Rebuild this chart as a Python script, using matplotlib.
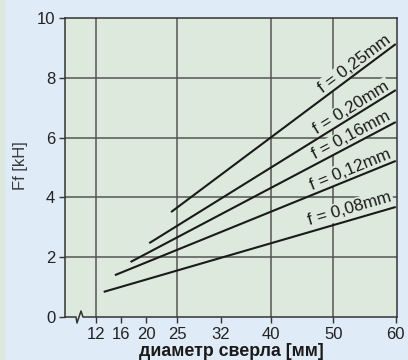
import numpy as np
import matplotlib.pyplot as plt
from matplotlib.patches import Rectangle

plt.rcParams['font.family'] = ['Liberation Sans', 'DejaVu Sans']

# data
feeds = ['0,25', '0,20', '0,16', '0,12', '0,08']
d_start = [24.0, 20.5, 17.5, 15.0, 13.2]
f_start = [3.51, 2.47, 1.84, 1.40, 0.84]
d_end = [60, 60, 60, 60, 60]
f_end = [9.13, 7.59, 6.52, 5.22, 3.68]
label_x = [53.4, 52.9, 52.9, 52.7, 52.6]
label_y = [8.45, 7.0, 6.07, 4.94, 3.62]

xticks = [12, 16, 20, 25, 32, 40, 50, 60]
xgrid = [12, 25, 40, 50]
yticks = [0, 2, 4, 6, 8, 10]
ygrid = [2, 4, 6, 8]

bg = '#dfebf7'
plot_bg = '#dde9dc'
grid_c = '#555555'

fig = plt.figure(figsize=(4.08, 3.6), dpi=100, facecolor=bg)
fig.patches.append(Rectangle((0, 0), 5 / 408, 1, transform=fig.transFigure,
                             facecolor=plot_bg, edgecolor='none', zorder=0))
ax = fig.add_axes([65 / 408, 43 / 360, 332 / 408, 299 / 360])
ax.set_facecolor(plot_bg)
ax.set_xlim(7, 60.2)
ax.set_ylim(0, 10)

for x in xgrid:
    ax.axvline(x, color=grid_c, lw=1.1, zorder=1)
for y in ygrid:
    ax.axhline(y, color=grid_c, lw=1.1, zorder=1)

for i in range(len(feeds)):
    ax.plot([d_start[i], d_end[i]], [f_start[i], f_end[i]], color='#1a1a1a',
            lw=1.5, zorder=4, solid_capstyle='butt')
    ang = np.degrees(np.arctan2(f_end[i] - f_start[i], d_end[i] - d_start[i]))
    ax.text(label_x[i], label_y[i], 'f = ' + feeds[i] + 'mm', fontsize=12.3,
            ha='center', va='center', rotation=ang, transform_rotates_text=True,
            rotation_mode='anchor', color='#1a1a1a', zorder=3,
            bbox=dict(facecolor=plot_bg, edgecolor='none', pad=1.2))

ax.set_xticks(xticks)
ax.set_yticks(yticks)
ax.tick_params(direction='out', length=4, width=1, color='#333333',
               labelsize=12, labelcolor='#222222', pad=3)
for s in ['left', 'top', 'right']:
    ax.spines[s].set_color('#333333')
    ax.spines[s].set_linewidth(1.1)
ax.spines['bottom'].set_visible(False)

# bottom axis with break mark
bx = [0, 11, 12, 16, 18, 332]
by = [0, 0, -6, 6, 0, 0]
ax.plot(np.array(bx) / 332, np.array(by) / 299, transform=ax.transAxes,
        color='#333333', lw=1.1, clip_on=False, zorder=5)

ax.set_xlabel('диаметр сверла [мм]', fontsize=12.8, fontweight='bold',
              color='#1a1a1a', labelpad=1)
fig.text(20 / 408, 0.54, 'Ff [kH]', rotation=90, ha='center', va='center',
         fontsize=12, color='#3a3a3a')

fig.savefig('out.png', dpi=100, facecolor=bg)
